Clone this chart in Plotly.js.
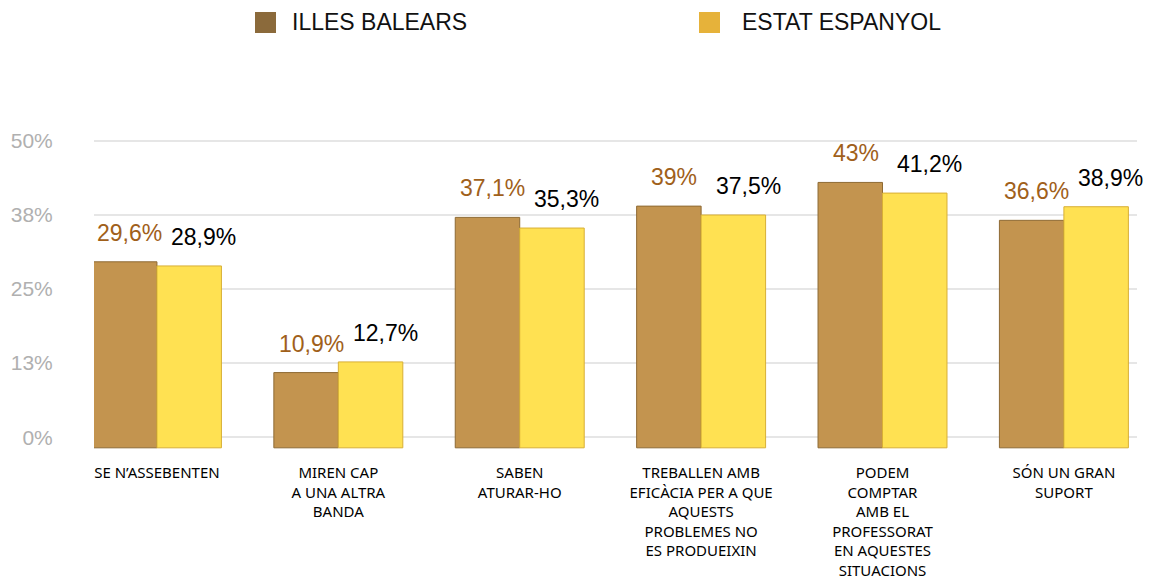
<!DOCTYPE html>
<html>
<head>
<meta charset="utf-8">
<script src="https://cdn.plot.ly/plotly-3.0.1.min.js"></script>
<style>html,body{margin:0;padding:0;background:#fff;}#chart{width:1154px;height:579px;}</style>
</head>
<body>
<div id="chart"></div>
<script>
const categories = [
  "SE N’ASSEBENTEN",
  "MIREN CAP<br>A UNA ALTRA<br>BANDA",
  "SABEN<br>ATURAR-HO",
  "TREBALLEN AMB<br>EFICÀCIA PER A QUE<br>AQUESTS<br>PROBLEMES NO<br>ES PRODUEIXIN",
  "PODEM<br>COMPTAR<br>AMB EL<br>PROFESSORAT<br>EN AQUESTES<br>SITUACIONS",
  "SÓN UN GRAN<br>SUPORT"
];
const seriesNames = ["ILLES BALEARS", "ESTAT ESPANYOL"];
const illesBalears = [29.6, 10.9, 37.1, 39, 43, 36.6];
const estatEspanyol = [28.9, 12.7, 35.3, 37.5, 41.2, 38.9];
const tickVals = [0, 12.5, 25, 37.5, 50];
const tickLabels = ["0%", "13%", "25%", "38%", "50%"];

const BASE = -1.8; // visual plinth below zero (3D look)
const W = 1154, H = 579;
const ml = 94, mr = 17, mt = 138, mb = 130;
const pw = W - ml - mr, ph = H - mt - mb;
const px = x => (x - ml) / pw;
const py = y => (H - mb - y) / ph;

const fmt = v => String(v).replace('.', ',') + '%';

const traces = [
  {
    type: 'bar', name: seriesNames[0], x: categories,
    y: illesBalears.map(v => v - BASE), base: BASE,
    marker: {color: '#C3944F', line: {color: '#8E6A34', width: 1}},
    hoverinfo: 'skip'
  },
  {
    type: 'bar', name: seriesNames[1], x: categories,
    y: estatEspanyol.map(v => v - BASE), base: BASE,
    marker: {color: '#FFE152', line: {color: '#D8AF35', width: 1}},
    hoverinfo: 'skip'
  }
];

const annotations = [];
categories.forEach((c, i) => {
  annotations.push({x: c, y: illesBalears[i], xref: 'x', yref: 'y', text: fmt(illesBalears[i]),
    showarrow: false, yanchor: 'middle', xanchor: 'center', xshift: -27, yshift: 29,
    font: {family: 'Liberation Sans, Arial, sans-serif', size: 23, color: '#A0601A'}});
  annotations.push({x: c, y: estatEspanyol[i], xref: 'x', yref: 'y', text: fmt(estatEspanyol[i]),
    showarrow: false, yanchor: 'middle', xanchor: 'center', xshift: 47, yshift: 29,
    font: {family: 'Liberation Sans, Arial, sans-serif', size: 23, color: '#000000'}});
});
// custom legend texts
annotations.push({xref: 'paper', yref: 'paper', x: px(290), y: py(22), text: seriesNames[0],
  showarrow: false, xanchor: 'left', yanchor: 'middle',
  font: {family: 'Liberation Sans, Arial, sans-serif', size: 23, color: '#111'}});
annotations.push({xref: 'paper', yref: 'paper', x: px(740), y: py(22), text: seriesNames[1],
  showarrow: false, xanchor: 'left', yanchor: 'middle',
  font: {family: 'Liberation Sans, Arial, sans-serif', size: 23, color: '#111'}});

const shapes = [
  {type: 'rect', xref: 'paper', yref: 'paper', x0: px(255), x1: px(276), y0: py(12), y1: py(33),
    fillcolor: '#8B6A3B', line: {width: 0}},
  {type: 'rect', xref: 'paper', yref: 'paper', x0: px(699), x1: px(720), y0: py(12), y1: py(33),
    fillcolor: '#E6B23A', line: {width: 0}}
];

const layout = {
  width: W, height: H,
  margin: {l: ml, r: mr, t: mt, b: mb, pad: 0},
  paper_bgcolor: '#ffffff', plot_bgcolor: '#ffffff',
  showlegend: false,
  barmode: 'group', bargap: 0.289, bargroupgap: 0,
  xaxis: {
    type: 'category', range: [-0.347, 5.403], showgrid: false, zeroline: false, showline: false,
    ticks: 'outside', ticklen: 10, tickcolor: 'rgba(0,0,0,0)',
    tickfont: {family: 'Noto Sans, Open Sans, sans-serif', size: 15, color: '#000'},
    tickangle: 0
  },
  yaxis: {
    range: [-2, 50.5], tickvals: tickVals, ticktext: tickLabels,
    showgrid: true, gridcolor: '#E6E6E6', gridwidth: 2, zeroline: false, showline: false,
    ticks: 'outside', ticklen: 36, tickcolor: 'rgba(0,0,0,0)',
    tickfont: {family: 'Liberation Sans, Arial, sans-serif', size: 21, color: '#B0B0B0'}
  },
  annotations: annotations,
  shapes: shapes
};

Plotly.newPlot('chart', traces, layout, {displayModeBar: false, staticPlot: true});
</script>
</body>
</html>
